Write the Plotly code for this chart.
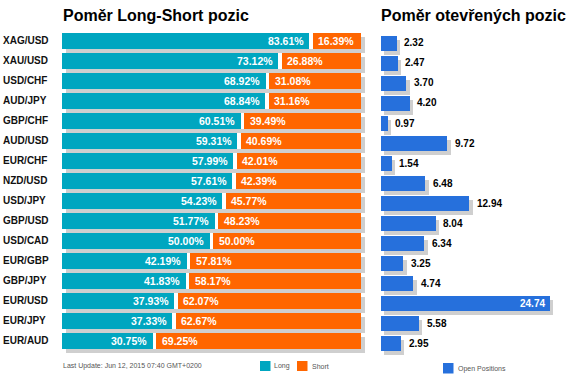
import plotly.graph_objects as go

# ---------------- data ----------------
pairs = ["XAG/USD", "XAU/USD", "USD/CHF", "AUD/JPY", "GBP/CHF", "AUD/USD", "EUR/CHF", "NZD/USD",
         "USD/JPY", "GBP/USD", "USD/CAD", "EUR/GBP", "GBP/JPY", "EUR/USD", "EUR/JPY", "EUR/AUD"]
long_pct = [83.61, 73.12, 68.92, 68.84, 60.51, 59.31, 57.99, 57.61,
            54.23, 51.77, 50.00, 42.19, 41.83, 37.93, 37.33, 30.75]
short_pct = [16.39, 26.88, 31.08, 31.16, 39.49, 40.69, 42.01, 42.39,
             45.77, 48.23, 50.00, 57.81, 58.17, 62.07, 62.67, 69.25]
open_pos = [2.32, 2.47, 3.70, 4.20, 0.97, 9.72, 1.54, 6.48,
            12.94, 8.04, 6.34, 3.25, 4.74, 24.74, 5.58, 2.95]

title_left = "Poměr Long-Short pozic"
title_right = "Poměr otevřených pozic"
update_text = "Last Update: Jun 12, 2015 07:40 GMT+0200"
legend_long = "Long"
legend_short = "Short"
legend_open = "Open Positions"

# ---------------- style ----------------
W, H = 578, 389
FONT = "Liberation Sans, Arial, sans-serif"
TEAL = "#00A6C0"
ORANGE = "#FF6600"
BLUE = "#2670DC"
SHADOW = "#CFCFCF"

# pixel geometry
L_X0, L_PX_PER_UNIT = 62, 2.99          # left chart: 0% at x=62, 100% at x=361
R_X0, R_PX_PER_UNIT = 381, 6.83         # right chart
ROW0_Y, ROW_PX = 40.7, 20.03            # centre of first row, row pitch
Y_RANGE = (-0.6, 15.8)

gap = 3.5 / L_PX_PER_UNIT
sdx_l = 4 / L_PX_PER_UNIT
sdx_r = 3.3 / R_PX_PER_UNIT
sdy = 4 / ROW_PX


def fx(px):
    return px / W


def fy(py):
    return 1 - py / H


y_top_px = ROW0_Y + Y_RANGE[0] * ROW_PX
y_bot_px = ROW0_Y + Y_RANGE[1] * ROW_PX

inner = (100 - gap) / 100
long_len = [v * inner for v in long_pct]
short_base = [v * inner + gap for v in long_pct]
short_len = [v * inner for v in short_pct]

n = len(pairs)
fig = go.Figure()

BW = 16 / ROW_PX
# left: shadow, white backing, long, short
fig.add_trace(go.Bar(orientation="h", y=pairs, x=[100] * n, base=[sdx_l] * n,
                     width=BW, offset=-BW / 2 + sdy, marker=dict(color=SHADOW, line=dict(width=0)),
                     hoverinfo="skip", xaxis="x", yaxis="y"))
fig.add_trace(go.Bar(orientation="h", y=pairs, x=[100] * n, base=[0] * n,
                     width=BW, offset=-BW / 2, marker=dict(color="white", line=dict(width=0)),
                     hoverinfo="skip", xaxis="x", yaxis="y"))
fig.add_trace(go.Bar(orientation="h", y=pairs, x=long_len, base=[0] * n, name=legend_long,
                     width=BW, offset=-BW / 2, marker=dict(color=TEAL, line=dict(width=0)),
                     xaxis="x", yaxis="y"))
fig.add_trace(go.Bar(orientation="h", y=pairs, x=short_len, base=short_base, name=legend_short,
                     width=BW, offset=-BW / 2, marker=dict(color=ORANGE, line=dict(width=0)),
                     xaxis="x", yaxis="y"))

# right: shadow + bars
RBW = 15.4 / ROW_PX
r_off = 2.2 / ROW_PX - RBW / 2
fig.add_trace(go.Bar(orientation="h", y=pairs, x=open_pos, base=[sdx_r] * n,
                     width=RBW, offset=r_off + sdy, marker=dict(color=SHADOW, line=dict(width=0)),
                     hoverinfo="skip", xaxis="x2", yaxis="y"))
fig.add_trace(go.Bar(orientation="h", y=pairs, x=open_pos, base=[0] * n, name=legend_open,
                     width=RBW, offset=r_off, marker=dict(color=BLUE, line=dict(width=0)),
                     xaxis="x2", yaxis="y"))

ann = []
for i, p in enumerate(pairs):
    # category label
    ann.append(dict(text=p, xref="paper", x=fx(1), xanchor="left", yref="y", y=p, yanchor="middle",
                    showarrow=False, font=dict(family=FONT, size=10, color="#111111", weight="bold"),
                    yshift=0.5))
    # long %
    ann.append(dict(text=f"{long_pct[i]:.2f}%", xref="x", x=long_len[i], xanchor="right",
                    yref="y", y=p, yanchor="middle", xshift=-3.5, showarrow=False,
                    font=dict(family=FONT, size=10.5, color="white", weight="bold")))
    # short %
    ann.append(dict(text=f"{short_pct[i]:.2f}%", xref="x", x=short_base[i], xanchor="left",
                    yref="y", y=p, yanchor="middle", xshift=3.5, showarrow=False,
                    font=dict(family=FONT, size=10.5, color="white", weight="bold")))
    # open positions
    v = open_pos[i]
    if v * R_PX_PER_UNIT > 120:
        ann.append(dict(text=f"{v:.2f}", xref="x2", x=v, xanchor="right", yref="y", y=p,
                        yanchor="middle", xshift=-2.5, yshift=-2.2, showarrow=False,
                        font=dict(family=FONT, size=10, color="white", weight="bold")))
    else:
        ann.append(dict(text=f"{v:.2f}", xref="x2", x=v, xanchor="left", yref="y", y=p,
                        yanchor="middle", xshift=5.5, yshift=-2.2, showarrow=False,
                        font=dict(family=FONT, size=10, color="#000000", weight="bold")))

# titles
ann.append(dict(text=f"<b>{title_left}</b>", xref="paper", yref="paper", x=fx(61), y=fy(15.5),
                xanchor="left", yanchor="middle", showarrow=False,
                font=dict(family=FONT, size=16, color="#000000")))
ann.append(dict(text=f"<b>{title_right}</b>", xref="paper", yref="paper", x=fx(379), y=fy(15.5),
                xanchor="left", yanchor="middle", showarrow=False,
                font=dict(family=FONT, size=16, color="#000000")))
# footer
small = dict(family=FONT, size=7, color="#555555")
ann.append(dict(text=update_text, xref="paper", yref="paper", x=fx(61), y=fy(365.5),
                xanchor="left", yanchor="middle", showarrow=False, font=small))
ann.append(dict(text=legend_long, xref="paper", yref="paper", x=fx(272), y=fy(366),
                xanchor="left", yanchor="middle", showarrow=False, font=small))
ann.append(dict(text=legend_short, xref="paper", yref="paper", x=fx(310), y=fy(366),
                xanchor="left", yanchor="middle", showarrow=False, font=small))
ann.append(dict(text=legend_open, xref="paper", yref="paper", x=fx(456), y=fy(368.5),
                xanchor="left", yanchor="middle", showarrow=False, font=small))

shapes = [
    dict(type="rect", xref="paper", yref="paper", x0=fx(260), x1=fx(270.5), y0=fy(371), y1=fy(361),
         fillcolor=TEAL, line=dict(width=0)),
    dict(type="rect", xref="paper", yref="paper", x0=fx(297), x1=fx(307.5), y0=fy(371), y1=fy(361),
         fillcolor=ORANGE, line=dict(width=0)),
    dict(type="rect", xref="paper", yref="paper", x0=fx(443), x1=fx(453.5), y0=fy(373.5), y1=fy(363),
         fillcolor=BLUE, line=dict(width=0)),
]

axis_off = dict(showgrid=False, zeroline=False, showticklabels=False, ticks="", showline=False)
l_end_px = 372
r_end_px = W
fig.update_layout(
    width=W, height=H, margin=dict(l=0, r=0, t=0, b=0),
    paper_bgcolor="white", plot_bgcolor="white",
    barmode="overlay", showlegend=False, bargap=0,
    xaxis=dict(domain=[fx(L_X0), fx(l_end_px)], range=[0, (l_end_px - L_X0) / L_PX_PER_UNIT],
               anchor="y", **axis_off),
    xaxis2=dict(domain=[fx(R_X0), fx(r_end_px)], range=[0, (r_end_px - R_X0) / R_PX_PER_UNIT],
                anchor="y", **axis_off),
    yaxis=dict(domain=[fy(y_bot_px), fy(y_top_px)], type="category", categoryorder="array",
               categoryarray=pairs, range=[Y_RANGE[1], Y_RANGE[0]], anchor="x", **axis_off),
    annotations=ann, shapes=shapes,
)

fig.write_html("out.html", config={"displayModeBar": False},
               post_script="document.body.style.margin='0';document.body.style.overflow='hidden';")
